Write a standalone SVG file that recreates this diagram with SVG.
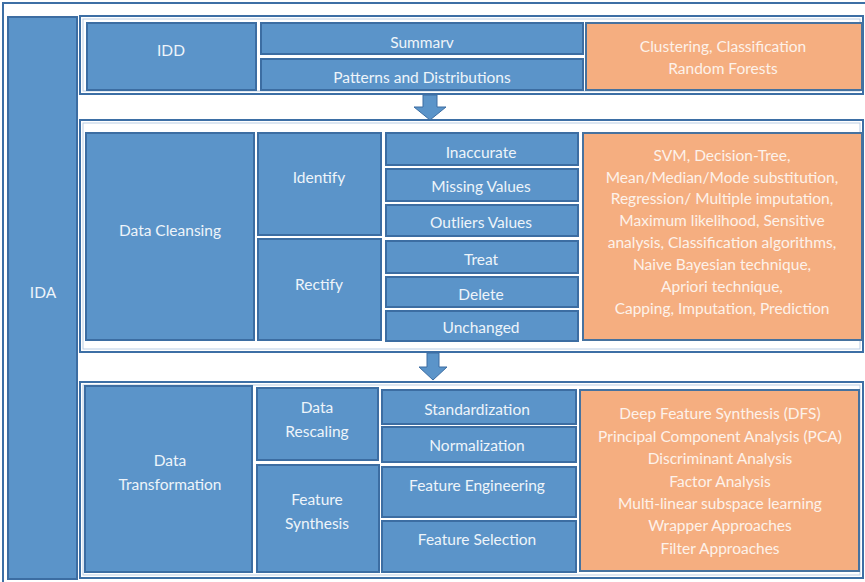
<svg xmlns="http://www.w3.org/2000/svg" width="865" height="582" viewBox="0 0 865 582">
  <defs>
    <style>
      .frame { fill: #ffffff; stroke: #3d6fa5; stroke-width: 2; }
      .sect { fill: #ffffff; stroke: #3d6fa5; stroke-width: 2; }
      .sect-in { fill: none; stroke: #b9cde4; stroke-width: 1; }
      .blue { fill: #5b94c9; stroke: #3c6da2; stroke-width: 2; }
      .orange { fill: #f5ae80; stroke: #46729f; stroke-width: 2; }
      .arrow { fill: #5b94c9; stroke: #3c6da2; stroke-width: 1; }
      text { font-family: Lato, "Liberation Sans", sans-serif; font-size: 15.5px; text-anchor: middle; dominant-baseline: central; }
      .tb { fill: #eef4fa; }
      .to { fill: #fdf2ea; }
    </style>
  </defs>

  <!-- outer frame -->
  <rect class="frame" x="3" y="3" width="870" height="590"/>

  <!-- IDA column -->
  <g id="ida">
    <rect class="blue" x="8" y="17" width="69" height="562"/>
    <text class="tb" x="43" y="292">IDA</text>
  </g>

  <!-- section containers -->
  <g id="section-idd">
    <rect class="sect" x="80" y="16" width="783" height="78"/>
    <rect class="sect-in" x="83" y="19" width="777" height="72"/>
  </g>
  <g id="section-cleansing">
    <rect class="sect" x="80" y="120" width="783" height="232"/>
    <rect class="sect-in" x="83" y="123" width="777" height="226"/>
  </g>
  <g id="section-transformation">
    <rect class="sect" x="80" y="382" width="783" height="196"/>
    <rect class="sect-in" x="83" y="385" width="777" height="190"/>
  </g>

  <!-- IDD row -->
  <g id="idd">
    <rect class="blue" x="87" y="23" width="169" height="67"/>
    <text class="tb" x="171" y="50">IDD</text>
  </g>
  <g id="summary">
    <rect class="blue" x="261" y="23" width="322" height="31"/>
    <text class="tb" x="422" y="42">Summarv</text>
  </g>
  <g id="patterns">
    <rect class="blue" x="261" y="59" width="322" height="31"/>
    <text class="tb" x="422" y="77">Patterns and Distributions</text>
  </g>
  <g id="idd-methods">
    <rect class="orange" x="586" y="23" width="276" height="67"/>
    <text class="to" x="723" y="46">Clustering, Classification</text>
    <text class="to" x="723" y="68">Random Forests</text>
  </g>

  <!-- Data Cleansing row -->
  <g id="data-cleansing">
    <rect class="blue" x="86" y="133" width="168" height="207"/>
    <text class="tb" x="170" y="230">Data Cleansing</text>
  </g>
  <g id="identify">
    <rect class="blue" x="258" y="133" width="123" height="102"/>
    <text class="tb" x="319" y="177">Identify</text>
  </g>
  <g id="rectify">
    <rect class="blue" x="258" y="239" width="123" height="101"/>
    <text class="tb" x="319" y="284">Rectify</text>
  </g>
  <g id="inaccurate">
    <rect class="blue" x="386" y="133" width="192" height="32"/>
    <text class="tb" x="481" y="152">Inaccurate</text>
  </g>
  <g id="missing-values">
    <rect class="blue" x="386" y="169" width="192" height="32"/>
    <text class="tb" x="481" y="186">Missing Values</text>
  </g>
  <g id="outliers-values">
    <rect class="blue" x="386" y="205" width="192" height="31"/>
    <text class="tb" x="481" y="222">Outliers Values</text>
  </g>
  <g id="treat">
    <rect class="blue" x="386" y="241" width="192" height="32"/>
    <text class="tb" x="481" y="259">Treat</text>
  </g>
  <g id="delete">
    <rect class="blue" x="386" y="277" width="192" height="30"/>
    <text class="tb" x="481" y="294">Delete</text>
  </g>
  <g id="unchanged">
    <rect class="blue" x="386" y="311" width="192" height="30"/>
    <text class="tb" x="481" y="327">Unchanged</text>
  </g>
  <g id="cleansing-methods">
    <rect class="orange" x="583" y="133" width="279" height="207"/>
    <text class="to" x="722" y="155">SVM, Decision-Tree,</text>
    <text class="to" x="722" y="177">Mean/Median/Mode substitution,</text>
    <text class="to" x="722" y="198">Regression/ Multiple imputation,</text>
    <text class="to" x="722" y="220">Maximum likelihood, Sensitive</text>
    <text class="to" x="722" y="242">analysis, Classification algorithms,</text>
    <text class="to" x="722" y="264">Naive Bayesian technique,</text>
    <text class="to" x="722" y="286">Apriori technique,</text>
    <text class="to" x="722" y="308">Capping, Imputation, Prediction</text>
  </g>

  <!-- Data Transformation row -->
  <g id="data-transformation">
    <rect class="blue" x="85" y="386" width="167" height="186"/>
    <text class="tb" x="170" y="460">Data</text>
    <text class="tb" x="170" y="484">Transformation</text>
  </g>
  <g id="data-rescaling">
    <rect class="blue" x="257" y="388" width="121" height="72"/>
    <text class="tb" x="317" y="407">Data</text>
    <text class="tb" x="317" y="431">Rescaling</text>
  </g>
  <g id="feature-synthesis">
    <rect class="blue" x="257" y="465" width="122" height="107"/>
    <text class="tb" x="317" y="499">Feature</text>
    <text class="tb" x="317" y="523">Synthesis</text>
  </g>
  <g id="standardization">
    <rect class="blue" x="382" y="390" width="194" height="34"/>
    <text class="tb" x="477" y="409">Standardization</text>
  </g>
  <g id="normalization">
    <rect class="blue" x="382" y="427" width="194" height="35"/>
    <text class="tb" x="477" y="445">Normalization</text>
  </g>
  <g id="feature-engineering">
    <rect class="blue" x="382" y="467" width="194" height="50"/>
    <text class="tb" x="477" y="485">Feature Engineering</text>
  </g>
  <g id="feature-selection">
    <rect class="blue" x="382" y="521" width="194" height="51"/>
    <text class="tb" x="477" y="539">Feature Selection</text>
  </g>
  <g id="transformation-methods">
    <rect class="orange" x="580" y="390" width="279" height="181"/>
    <text class="to" x="720" y="413">Deep Feature Synthesis (DFS)</text>
    <text class="to" x="720" y="436">Principal Component Analysis (PCA)</text>
    <text class="to" x="720" y="458">Discriminant Analysis</text>
    <text class="to" x="720" y="481">Factor Analysis</text>
    <text class="to" x="720" y="503">Multi-linear subspace learning</text>
    <text class="to" x="720" y="525">Wrapper Approaches</text>
    <text class="to" x="720" y="548">Filter Approaches</text>
  </g>

  <!-- flow arrows between sections -->
  <g id="connectors">
    <polygon class="arrow" points="423,95 437,95 437,107 446,107 430,120 414,107 423,107"/>
    <polygon class="arrow" points="427,353 439,353 439,367 447,367 433,380 419,367 427,367"/>
  </g>
</svg>
